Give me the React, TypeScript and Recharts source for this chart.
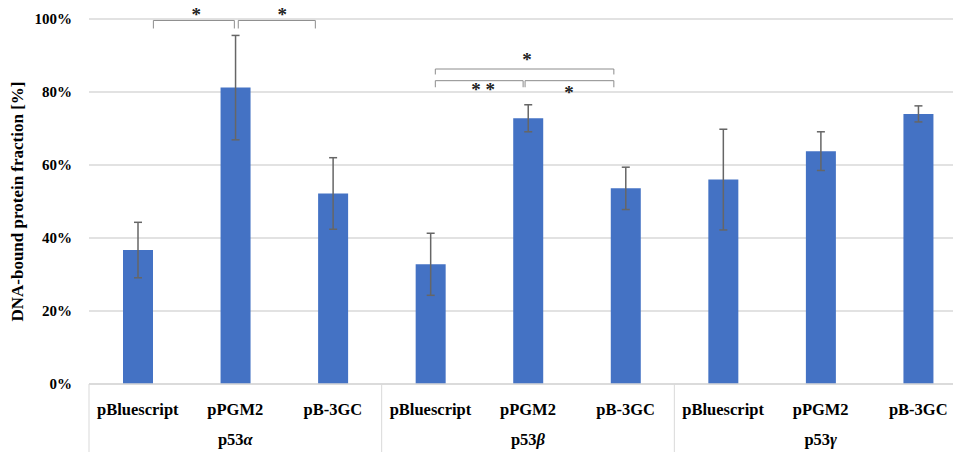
import React from "react";
import { BarChart, Bar, XAxis, YAxis, CartesianGrid, ErrorBar, ReferenceLine, ReferenceDot } from "recharts";

// DNA-bound fraction per isoform / plasmid, mean and error (%)
const groups = ["α", "β", "γ"];
const plasmids = ["pBluescript", "pPGM2", "pB-3GC"];
const boundFraction = [36.7, 81.2, 52.2, 32.8, 72.8, 53.6, 56.0, 63.8, 74.0];
const boundError = [7.6, 14.3, 9.8, 8.5, 3.7, 5.8, 13.8, 5.3, 2.2];
const yTicks = [0, 20, 40, 60, 80, 100];

// significance brackets, in units of the annotation axis (one unit per bar slot)
const brackets = [
  { x1: 0.66, x2: 1.49, y: 99.6, drop: 2.2 },
  { x1: 1.53, x2: 2.32, y: 99.6, drop: 2.2 },
  { x1: 3.55, x2: 4.45, y: 83.1, drop: 1.8 },
  { x1: 4.47, x2: 5.38, y: 83.1, drop: 1.8 },
  { x1: 3.55, x2: 5.38, y: 86.3, drop: 1.5 },
];
const stars = [
  { x: 1.1, y: 101.9, text: "*" },
  { x: 1.98, y: 101.9, text: "*" },
  { x: 4.04, y: 81.5, text: "* *" },
  { x: 4.92, y: 80.5, text: "*" },
  { x: 4.49, y: 89.7, text: "*" },
];

const data = boundFraction.map((value, i) => ({
  id: `${groups[Math.floor(i / 3)]}-${plasmids[i % 3]}`,
  plasmid: plasmids[i % 3],
  group: groups[Math.floor(i / 3)],
  slot: i + 0.5,
  value,
  err: boundError[i],
}));

const WIDTH = 975;
const HEIGHT = 460;
const Y_AXIS_W = 89;
const MARGIN = { top: 19, right: 8, left: 0, bottom: 0 };
const BAND = (WIDTH - MARGIN.left - MARGIN.right - Y_AXIS_W) / data.length;
const FONT = "'Liberation Serif', 'Times New Roman', serif";
const GRID = "#d9d9d9";
const BRACKET = "#8c8c8c";

const CategoryTick = (props: any) => {
  const { x, y, index } = props;
  const item = data[index];
  const axisY = y - 8;
  return (
    <g>
      {index % 3 === 0 && (
        <line x1={x - BAND / 2} y1={axisY} x2={x - BAND / 2} y2={axisY + 80} stroke={GRID} />
      )}
      {index === data.length - 1 && (
        <line x1={x + BAND / 2} y1={axisY} x2={x + BAND / 2} y2={axisY + 80} stroke={GRID} />
      )}
      <text x={x} y={axisY + 31} textAnchor="middle" fontFamily={FONT} fontWeight="bold" fontSize={16.5} fill="#000">
        {item.plasmid}
      </text>
      {index % 3 === 1 && (
        <text x={x} y={axisY + 61} textAnchor="middle" fontFamily={FONT} fontWeight="bold" fontSize={16.5} fill="#000">
          p53<tspan fontStyle="italic">{item.group}</tspan>
        </text>
      )}
    </g>
  );
};

const YTitle = (props: any) => {
  const vb = props.viewBox || { y: 19, height: 365 };
  const cx = 17;
  const cy = vb.y + vb.height / 2;
  return (
    <text
      x={cx}
      y={cy}
      transform={`rotate(-90 ${cx} ${cy})`}
      textAnchor="middle"
      dominantBaseline="central"
      fontFamily={FONT}
      fontWeight="bold"
      fontSize={17}
      fill="#000"
    >
      DNA-bound protein fraction [%]
    </text>
  );
};

export default function App() {
  return (
    <div style={{ position: "absolute", left: 0, top: 0, width: 953, height: 452, overflow: "hidden", background: "#fff" }}>
      <BarChart width={WIDTH} height={HEIGHT} data={data} margin={MARGIN} barSize={30}>
        <CartesianGrid vertical={false} stroke={GRID} strokeWidth={1.5} />
        <XAxis
          dataKey="id"
          height={76}
          axisLine={{ stroke: GRID, strokeWidth: 1.5 }}
          tickLine={false}
          interval={0}
          tick={<CategoryTick />}
        />
        <XAxis xAxisId="ann" dataKey="slot" type="number" domain={[0, 9]} hide allowDataOverflow />
        <YAxis
          width={Y_AXIS_W}
          domain={[0, 100]}
          ticks={yTicks}
          axisLine={false}
          tickLine={false}
          tickMargin={11}
          tickFormatter={(v: number) => `${v}%`}
          tick={{ fontFamily: FONT, fontWeight: "bold", fontSize: 15, fill: "#000" }}
          label={<YTitle />}
        />
        <Bar dataKey="value" fill="#4472C4" isAnimationActive={false}>
          <ErrorBar dataKey="err" width={4} stroke="#666" strokeWidth={1.5} />
        </Bar>
        {brackets.map((b, i) => (
          <React.Fragment key={`b${i}`}>
            <ReferenceLine
              xAxisId="ann"
              segment={[{ x: b.x1, y: b.y }, { x: b.x2, y: b.y }]}
              stroke={BRACKET}
              ifOverflow="visible"
            />
            <ReferenceLine
              xAxisId="ann"
              segment={[{ x: b.x1, y: b.y }, { x: b.x1, y: b.y - b.drop }]}
              stroke={BRACKET}
              ifOverflow="visible"
            />
            <ReferenceLine
              xAxisId="ann"
              segment={[{ x: b.x2, y: b.y }, { x: b.x2, y: b.y - b.drop }]}
              stroke={BRACKET}
              ifOverflow="visible"
            />
          </React.Fragment>
        ))}
        {stars.map((s, i) => (
          <ReferenceDot
            key={`s${i}`}
            xAxisId="ann"
            x={s.x}
            y={s.y}
            r={0}
            ifOverflow="visible"
            shape={(p: any) => (
              <text x={p.cx} y={p.cy + 9} textAnchor="middle" fontFamily={FONT} fontWeight="bold" fontSize={19} fill="#222">
                {s.text}
              </text>
            )}
          />
        ))}
      </BarChart>
    </div>
  );
}
